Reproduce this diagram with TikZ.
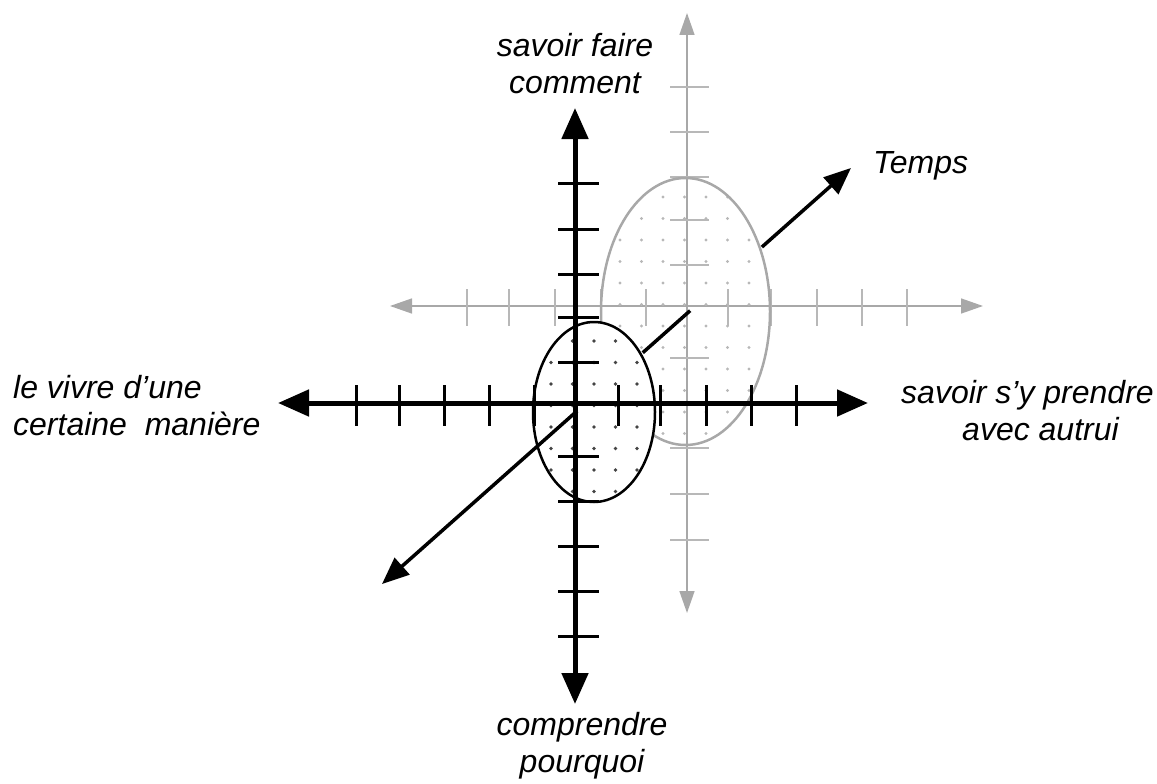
\documentclass[tikz,border=0pt]{standalone}
\usepackage{fontspec}
\setmainfont{Liberation Sans}
\usetikzlibrary{arrows.meta,calc}
\definecolor{axgray}{HTML}{A8A8A8}
\definecolor{tkgray}{HTML}{B8B8B8}
\definecolor{dotdk}{HTML}{444444}
\definecolor{dotlt}{HTML}{B8B8B8}
\tikzset{
  ax/.style={line width=5pt,{Triangle[length=31pt,width=26pt]}-{Triangle[length=31pt,width=26pt]}},
  axg/.style={line width=1.5pt,axgray,{Triangle[length=22pt,width=15pt]}-{Triangle[length=22pt,width=15pt]}},
  tk/.style={line width=3pt},
  tkg/.style={line width=1.2pt,tkgray},
  el/.style={line width=2.5pt},
  elg/.style={line width=2.5pt,axgray},
  tm/.style={line width=3.5pt},
  tmar/.style={tm,-{Triangle[length=27pt,width=22pt]}},
  lbl/.style={inner sep=0pt,font=\fontsize{32}{37}\selectfont\itshape}
}
\begin{document}
\begin{tikzpicture}[x=1pt,y=-1pt]
\useasboundingbox (0,0) rectangle (1157,784);
% gray axes in the back
\coordinate (gl) at (390,306);
\coordinate (gr) at (983,306);
\coordinate (gt) at (687,13);
\coordinate (gb) at (687,613);
\draw[axg] (gl) -- (gr);
\draw[axg] (gt) -- (gb);
\foreach \x in {467,509,555,601,646,728,771,817,862,907}{\draw[tkg] (\x,289) -- (\x,326);}
\foreach \y in {87,132,177,220,265,358,403,448,494,540}{\draw[tkg] (670,\y) -- (709,\y);}
% gray ellipse
\begin{scope}
\clip (685.5,311.5) ellipse [x radius=84.5pt,y radius=133.5pt];
\foreach \x in {598.5,620,...,771}{\foreach \y in {175.5,197,...,455}{\fill[dotlt] (\x,\y) circle [radius=1.7pt];}}
\end{scope}
\draw[elg] (685.5,311.5) ellipse [x radius=84.5pt,y radius=133.5pt];
% black ellipse
\fill[white] (594,412) ellipse [x radius=61pt,y radius=90pt];
\begin{scope}
\clip (594,412) ellipse [x radius=61pt,y radius=90pt];
\foreach \x in {529.5,551,...,659}{\foreach \y in {319.5,341,...,513}{\fill[dotdk] (\x,\y) circle [radius=1.8pt];}}
\end{scope}
\draw[el] (594,412) ellipse [x radius=61pt,y radius=90pt];
% black axes
\coordinate (xl) at (278,403);
\coordinate (xr) at (868,403);
\coordinate (yt) at (575,108);
\coordinate (yb) at (575,704);
\draw[ax] (xl) -- (xr);
\draw[ax] (yt) -- (yb);
\foreach \x in {356,399,444,489,534,618,660,706,751,796}{\draw[tk] (\x,385) -- (\x,426);}
\foreach \y in {183,229,274,317,362,456,501,546,591,636}{\draw[tk] (558,\y) -- (599,\y);}
% time axis, hidden behind the ellipses
\coordinate (ta) at (382,584);
\coordinate (tb) at (851,168);
\coordinate (t1) at ($(ta)!0.416!(tb)$);
\coordinate (t2) at ($(ta)!0.556!(tb)$);
\coordinate (t3) at ($(ta)!0.657!(tb)$);
\coordinate (t4) at ($(ta)!0.810!(tb)$);
\draw[tmar] (t1) -- (ta);
\draw[tm] (t2) -- (t3);
\draw[tmar] (t4) -- (tb);
% labels (base = last line)
\node[lbl,anchor=base,align=center] (faire) at (575,93) {savoir faire\\comment};
\node[lbl,anchor=base,align=center] (pourquoi) at (582,772) {comprendre\\pourquoi};
\node[lbl,anchor=base west,align=left] (vivre) at (13,435) {le vivre d’une\\certaine\ \ manière};
\node[lbl,anchor=base,align=center] (autrui) at (1027.5,440) {savoir s’y prendre\\\hspace*{26pt}avec autrui};
\node[lbl,anchor=base west] (temps) at (873,173) {Temps};
\end{tikzpicture}
\end{document}
